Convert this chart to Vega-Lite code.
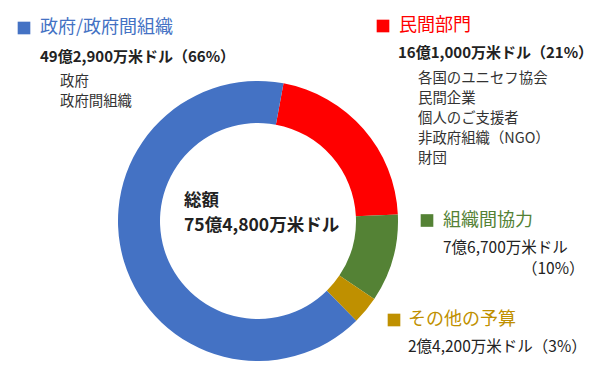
{
  "$schema": "https://vega.github.io/schema/vega-lite/v6.json",
  "autosize": "none",
  "width": 300,
  "height": 300,
  "padding": {"left": 108, "top": 71, "right": 192, "bottom": 9},
  "background": "white",
  "config": {"view": {"stroke": null}, "text": {"font": "Noto Sans CJK JP"}},
  "datasets": {
    "budget": [
      {"category": "民間部門", "value": 1610, "rank": 1},
      {"category": "組織間協力", "value": 767, "rank": 2},
      {"category": "その他の予算", "value": 242, "rank": 3},
      {"category": "政府/政府間組織", "value": 4929, "rank": 4}
    ],
    "notes": [
      {"role": "title", "category": "政府/政府間組織", "text": "政府/政府間組織", "x": -218, "y": 193},
      {"role": "title", "category": "民間部門", "text": "民間部門", "x": 141, "y": 195},
      {"role": "title", "category": "組織間協力", "text": "組織間協力", "x": 185, "y": 0.5},
      {"role": "title", "category": "その他の予算", "text": "その他の予算", "x": 150, "y": -99},
      {"role": "major", "category": "政府/政府間組織", "text": "49億2,900万米ドル（66%）", "x": -218, "y": 164},
      {"role": "major", "category": "民間部門", "text": "16億1,000万米ドル（21%）", "x": 140, "y": 168},
      {"role": "minor", "category": "組織間協力", "text": "7億6,700万米ドル", "x": 185, "y": -27},
      {"role": "minor", "category": "組織間協力", "text": "（10%）", "x": 264, "y": -48},
      {"role": "minor", "category": "その他の予算", "text": "2億4,200万米ドル（3%）", "x": 150, "y": -126},
      {"role": "detail", "category": "政府/政府間組織", "text": "政府", "x": -198, "y": 139},
      {"role": "detail", "category": "政府/政府間組織", "text": "政府間組織", "x": -198, "y": 119},
      {"role": "detail", "category": "民間部門", "text": "各国のユニセフ協会", "x": 160, "y": 142},
      {"role": "detail", "category": "民間部門", "text": "民間企業", "x": 160, "y": 122},
      {"role": "detail", "category": "民間部門", "text": "個人のご支援者", "x": 160, "y": 102},
      {"role": "detail", "category": "民間部門", "text": "非政府組織（NGO）", "x": 160, "y": 82},
      {"role": "detail", "category": "民間部門", "text": "財団", "x": 160, "y": 62},
      {"role": "total", "category": "総額", "text": "総額", "x": -74, "y": 20},
      {"role": "total", "category": "総額", "text": "75億4,800万米ドル", "x": -74, "y": -4.5}
    ],
    "keys": [
      {"category": "政府/政府間組織", "x": -234, "y": 193},
      {"category": "民間部門", "x": 125, "y": 195},
      {"category": "組織間協力", "x": 169, "y": 0.5},
      {"category": "その他の予算", "x": 136, "y": -99}
    ]
  },
  "layer": [
    {
      "data": {"name": "budget"},
      "mark": {"type": "arc", "innerRadius": 98, "outerRadius": 140},
      "encoding": {
        "theta": {"field": "value", "type": "quantitative", "stack": true, "scale": {"range": [0.1833, 6.4665]}},
        "order": {"field": "rank", "type": "quantitative"},
        "color": {
          "field": "category", "type": "nominal", "legend": null,
          "scale": {"domain": ["政府/政府間組織", "民間部門", "組織間協力", "その他の予算"], "range": ["#4472C4", "#FF0000", "#548235", "#BF9000"]}
        }
      }
    },
    {
      "data": {"name": "keys"},
      "mark": {"type": "point", "shape": "square", "filled": true, "opacity": 1, "size": 160},
      "encoding": {
        "x": {"field": "x", "type": "quantitative", "scale": {"domain": [-150, 150], "nice": false, "zero": false}, "axis": null},
        "y": {"field": "y", "type": "quantitative", "scale": {"domain": [-150, 150], "nice": false, "zero": false}, "axis": null},
        "color": {"field": "category", "type": "nominal", "legend": null}
      }
    },
    {
      "data": {"name": "notes"},
      "transform": [{"filter": "datum.role === 'title'"}],
      "mark": {"type": "text", "align": "left", "baseline": "middle", "fontSize": 18},
      "encoding": {
        "x": {"field": "x", "type": "quantitative"},
        "y": {"field": "y", "type": "quantitative"},
        "text": {"field": "text"},
        "color": {"field": "category", "type": "nominal", "legend": null}
      }
    },
    {
      "data": {"name": "notes"},
      "transform": [{"filter": "datum.role === 'major'"}],
      "mark": {"type": "text", "align": "left", "baseline": "middle", "fontSize": 15, "fontWeight": "bold", "color": "#222222"},
      "encoding": {
        "x": {"field": "x", "type": "quantitative"},
        "y": {"field": "y", "type": "quantitative"},
        "text": {"field": "text"}
      }
    },
    {
      "data": {"name": "notes"},
      "transform": [{"filter": "datum.role === 'minor'"}],
      "mark": {"type": "text", "align": "left", "baseline": "middle", "fontSize": 15.5, "color": "#222222"},
      "encoding": {
        "x": {"field": "x", "type": "quantitative"},
        "y": {"field": "y", "type": "quantitative"},
        "text": {"field": "text"}
      }
    },
    {
      "data": {"name": "notes"},
      "transform": [{"filter": "datum.role === 'detail'"}],
      "mark": {"type": "text", "align": "left", "baseline": "middle", "fontSize": 14.4, "color": "#333333"},
      "encoding": {
        "x": {"field": "x", "type": "quantitative"},
        "y": {"field": "y", "type": "quantitative"},
        "text": {"field": "text"}
      }
    },
    {
      "data": {"name": "notes"},
      "transform": [{"filter": "datum.role === 'total'"}],
      "mark": {"type": "text", "align": "left", "baseline": "middle", "fontSize": 17.5, "fontWeight": "bold", "color": "#222222"},
      "encoding": {
        "x": {"field": "x", "type": "quantitative"},
        "y": {"field": "y", "type": "quantitative"},
        "text": {"field": "text"}
      }
    }
  ]
}
